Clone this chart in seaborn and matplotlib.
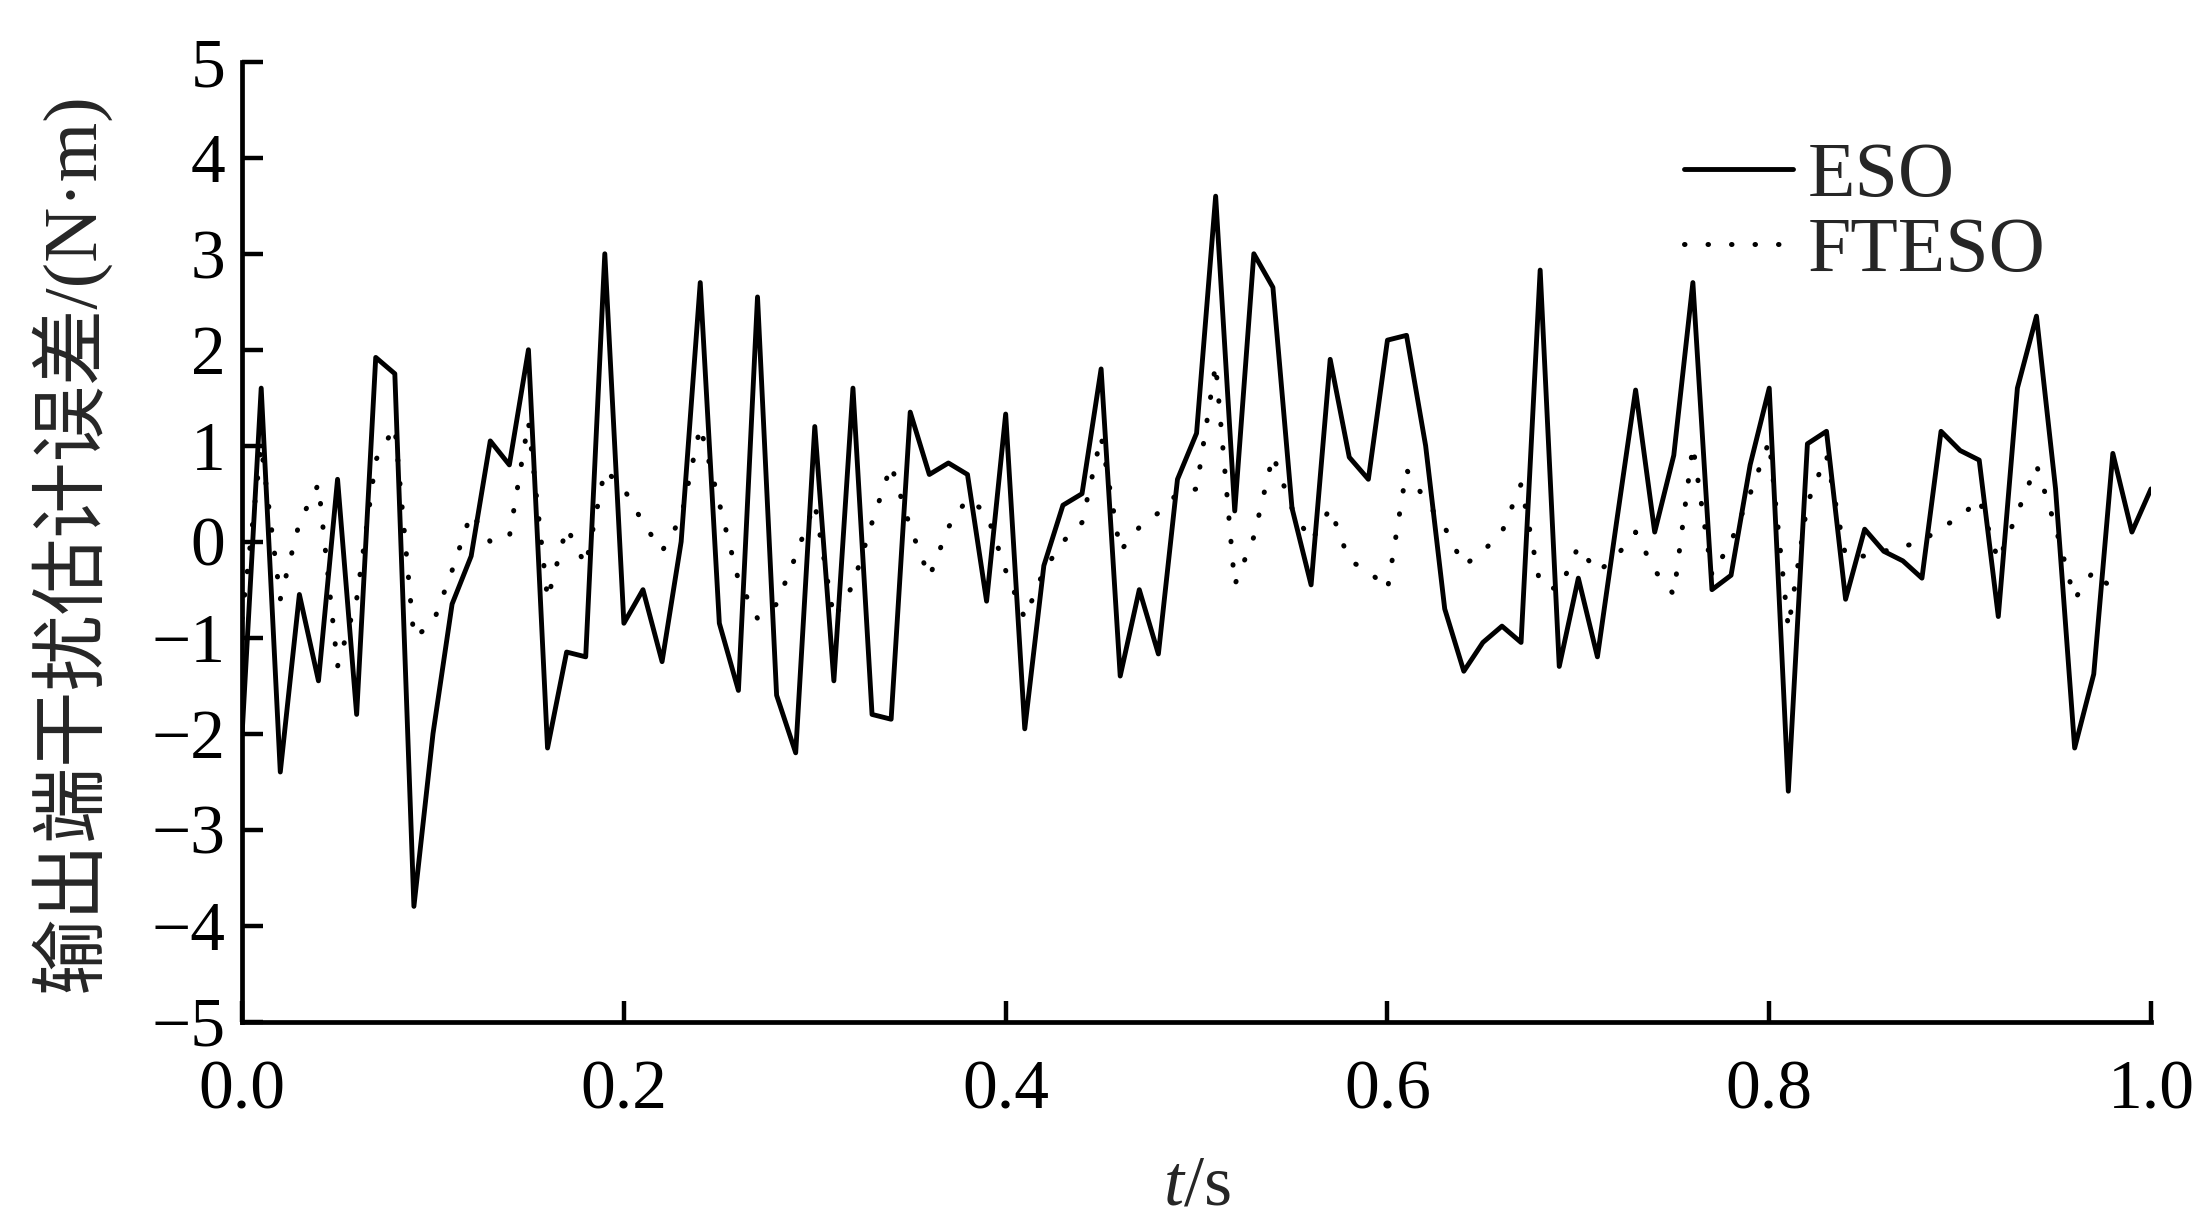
import matplotlib
matplotlib.use('Agg')
import matplotlib.pyplot as plt
import numpy as np
import pandas as pd
import seaborn as sns

# time grid (s)
t_eso = [i / 100 for i in range(101)]
eso = [-2.0, 1.6, -2.4, -0.55, -1.45, 0.65, -1.8, 1.92, 1.75, -3.8,
       -2.0, -0.65, -0.15, 1.05, 0.8, 2.0, -2.15, -1.15, -1.2, 3.0,
       -0.85, -0.5, -1.25, 0.0, 2.7, -0.85, -1.55, 2.55, -1.6, -2.2,
       1.2, -1.45, 1.6, -1.8, -1.85, 1.35, 0.7, 0.82, 0.7, -0.62,
       1.33, -1.95, -0.25, 0.38, 0.5, 1.8, -1.4, -0.5, -1.17, 0.65,
       1.13, 3.6, 0.32, 3.0, 2.65, 0.35, -0.45, 1.9, 0.88, 0.65,
       2.1, 2.15, 1.0, -0.7, -1.35, -1.05, -0.88, -1.05, 2.83, -1.3,
       -0.38, -1.2, 0.2, 1.58, 0.1, 0.9, 2.7, -0.5, -0.35, 0.8,
       1.6, -2.6, 1.02, 1.15, -0.6, 0.13, -0.1, -0.2, -0.38, 1.15,
       0.95, 0.85, -0.78, 1.6, 2.35, 0.55, -2.15, -1.38, 0.92, 0.1,
       0.55]

t_fteso = [i / 100 for i in range(99)]
fteso = [-0.8, 1.0, -0.6, 0.2, 0.6, -1.3, -0.6, 0.85, 1.2, -1.0,
         -0.85, -0.3, 0.3, 0.0, 0.05, 1.25, -0.6, 0.15, -0.25, 0.75,
         0.55, 0.2, -0.1, 0.25, 1.2, 0.4, -0.4, -0.8, -0.65, -0.15,
         0.4, -0.8, -0.45, 0.2, 0.8, 0.15, -0.37, 0.15, 0.45, 0.3,
         -0.3, -0.8, -0.3, 0.0, 0.2, 1.1, -0.1, 0.15, 0.3, 0.5,
         0.55, 1.85, -0.45, 0.05, 0.9, 0.35, 0.0, 0.35, -0.2, -0.3,
         -0.5, 0.75, 0.43, 0.15, -0.25, -0.1, 0.1, 0.6, -0.45, -0.5,
         -0.05, -0.32, -0.15, 0.1, -0.3, -0.55, 1.0, -0.35, 0.0, 0.5,
         1.05, -0.9, 0.4, 0.9, -0.15, -0.15, -0.1, -0.05, 0.0, 0.15,
         0.25, 0.45, -0.2, 0.3, 0.8, 0.15, -0.6, -0.3, -0.5]

x_ticks = [0.0, 0.2, 0.4, 0.6, 0.8, 1.0]
y_ticks = [-5, -4, -3, -2, -1, 0, 1, 2, 3, 4, 5]

df_eso = pd.DataFrame({'t': t_eso, 'err': eso})
df_fteso = pd.DataFrame({'t': t_fteso, 'err': fteso})

sns.set_style('ticks')
plt.rcParams['font.family'] = ['Liberation Serif', 'Noto Sans CJK SC']
plt.rcParams['mathtext.fontset'] = 'custom'
plt.rcParams['mathtext.it'] = 'Liberation Serif:italic'
plt.rcParams['mathtext.rm'] = 'Liberation Serif'

fig = plt.figure(figsize=(22.03, 12.29), dpi=100)
ax = fig.add_axes([0.1099, 0.1688, 0.8665, 0.7809])

sns.lineplot(data=df_eso, x='t', y='err', ax=ax, color='black', lw=3.5,
             label='ESO')
sns.lineplot(data=df_fteso, x='t', y='err', ax=ax, color='black', lw=3.6,
             linestyle=(0, (0.1, 4.6)), dash_capstyle='round', label='FTESO')

ax.set_xlim(0, 1.0)
ax.set_ylim(-5, 5)
ax.set_xticks(x_ticks)
ax.set_xticklabels([f'{v:.1f}' for v in x_ticks])
ax.set_yticks(y_ticks)
ax.set_yticklabels([f'{v}'.replace('-', '\u2212') for v in y_ticks])
ax.tick_params(direction='in', length=15, width=3.2, labelsize=50,
               colors='black')
ax.tick_params(axis='x', pad=28)
ax.tick_params(axis='y', pad=12)
for s in ['top', 'right']:
    ax.spines[s].set_visible(False)
for s in ['left', 'bottom']:
    ax.spines[s].set_linewidth(3.4)
    ax.spines[s].set_color('black')

ax.set_xlabel('$t$/s', fontsize=52, labelpad=22)
ax.set_ylabel('输出端干扰估计误差/(N·m)', fontsize=55, labelpad=30)

leg = ax.legend(loc='upper right', bbox_to_anchor=(0.945, 0.917), frameon=False,
                fontsize=56, handlelength=1.4, handletextpad=0.2,
                labelspacing=0.05, borderaxespad=0, borderpad=0)

fig.savefig('out.png', dpi=100)
